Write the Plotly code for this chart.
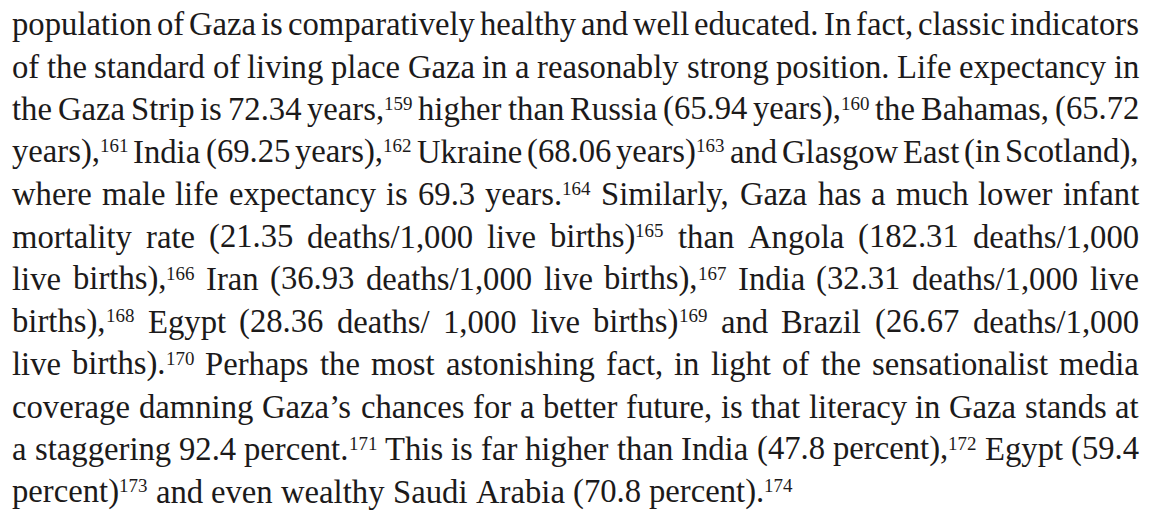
import re
import plotly.graph_objects as go

# ---- content (text of the page, line by line, footnote markers as superscripts) ----
lines = [
    "population of Gaza is comparatively healthy and well educated. In fact, classic indicators",
    "of the standard of living place Gaza in a reasonably strong position. Life expectancy in",
    "the Gaza Strip is 72.34 years,<sup>159</sup> higher than Russia (65.94 years),<sup>160</sup> the Bahamas, (65.72",
    "years),<sup>161</sup> India (69.25 years),<sup>162</sup> Ukraine (68.06 years)<sup>163</sup> and Glasgow East (in Scotland),",
    "where male life expectancy is 69.3 years.<sup>164</sup> Similarly, Gaza has a much lower infant",
    "mortality rate (21.35 deaths/1,000 live births)<sup>165</sup> than Angola (182.31 deaths/1,000",
    "live births),<sup>166</sup> Iran (36.93 deaths/1,000 live births),<sup>167</sup> India (32.31 deaths/1,000 live",
    "births),<sup>168</sup> Egypt (28.36 deaths/ 1,000 live births)<sup>169</sup> and Brazil (26.67 deaths/1,000",
    "live births).<sup>170</sup> Perhaps the most astonishing fact, in light of the sensationalist media",
    "coverage damning Gaza\u2019s chances for a better future, is that literacy in Gaza stands at",
    "a staggering 92.4 percent.<sup>171</sup> This is far higher than India (47.8 percent),<sup>172</sup> Egypt (59.4",
    "percent)<sup>173</sup> and even wealthy Saudi Arabia (70.8 percent).<sup>174</sup>",
]

# ---- page layout ----
PAGE_W, PAGE_H = 1150, 511
LEFT, RIGHT = 12, 1139
FIRST_BASELINE, LEADING = 35, 42.5
FONT = "Liberation Serif"
COLOR = "#1c1a1a"
SUP_SCALE = 0.58      # superscript size relative to body text
SUP_RAISE = 0.31      # superscript baseline shift (em of body text)
SUP_GAP = 0.0         # extra space before a superscript (em)
DESCENT = 0.216       # font descent (em), used to place text on its baseline

# Times-compatible advance widths (1/1000 em) used for justification
WIDTHS = {" ": 250, "(": 333, ")": 333, ",": 250, ".": 250, "/": 278, "\u2019": 333, "-": 333,
          "A": 722, "B": 667, "C": 667, "D": 722, "E": 611, "F": 556, "G": 722, "H": 722,
          "I": 333, "J": 389, "K": 722, "L": 611, "M": 889, "N": 722, "O": 722, "P": 556,
          "Q": 722, "R": 667, "S": 556, "T": 611, "U": 722, "V": 722, "W": 944, "Y": 722,
          "a": 444, "b": 500, "c": 444, "d": 500, "e": 444, "f": 333, "g": 500, "h": 500,
          "i": 278, "j": 278, "k": 500, "l": 278, "m": 778, "n": 500, "o": 500, "p": 500,
          "q": 500, "r": 333, "s": 389, "t": 278, "u": 500, "v": 500, "w": 722, "x": 500,
          "y": 500, "z": 444}
for d in "0123456789":
    WIDTHS[d] = 500


def text_em(s):
    return sum(WIDTHS.get(c, 500) for c in s) / 1000


def segments(word):
    """Split a word into (text, is_superscript) pieces."""
    out, pos = [], 0
    for m in re.finditer(r"<sup>(.*?)</sup>", word):
        if m.start() > pos:
            out.append((word[pos:m.start()], False))
        out.append((m.group(1), True))
        pos = m.end()
    if pos < len(word):
        out.append((word[pos:], False))
    return out


def seg_em(seg):
    txt, sup = seg
    return text_em(txt) * SUP_SCALE + SUP_GAP if sup else text_em(txt)


def word_em(word):
    return sum(seg_em(s) for s in segments(word))


words_per_line = [ln.split(" ") for ln in lines]
text_w = RIGHT - LEFT

# font size so that the tightest justified line still has reasonable spaces
fit_sizes = []
for ws in words_per_line[:-1]:
    em = sum(word_em(w) for w in ws) + 0.15 * (len(ws) - 1)
    fit_sizes.append(text_w / em)
FS = min(fit_sizes)

annotations = []
for i, ws in enumerate(words_per_line):
    baseline = FIRST_BASELINE + LEADING * i
    widths = [word_em(w) * FS for w in ws]
    if i < len(words_per_line) - 1:
        gap = (text_w - sum(widths)) / (len(ws) - 1)
    else:
        gap = 0.25 * FS
    x = LEFT
    for w, wd in zip(ws, widths):
        sx = x
        for seg in segments(w):
            txt, sup = seg
            if sup:
                size = FS * SUP_SCALE
                sx += SUP_GAP * FS
                base = baseline - SUP_RAISE * FS
            else:
                size = FS
                base = baseline
            annotations.append(dict(
                text=txt, x=sx / PAGE_W, y=1 - (base + DESCENT * size) / PAGE_H,
                xref="paper", yref="paper", xanchor="left", yanchor="bottom",
                showarrow=False, borderpad=0, borderwidth=0,
                font=dict(family=FONT, size=size, color=COLOR),
            ))
            sx += text_em(txt) * size
        x += wd + gap

fig = go.Figure()
fig.update_layout(
    width=PAGE_W, height=PAGE_H,
    margin=dict(l=0, r=0, t=0, b=0),
    paper_bgcolor="white", plot_bgcolor="white",
    xaxis=dict(visible=False), yaxis=dict(visible=False),
    annotations=annotations,
    showlegend=False,
)
fig.write_html("out.html", config={"displayModeBar": False},
               post_script="document.body.style.margin='0px';")
